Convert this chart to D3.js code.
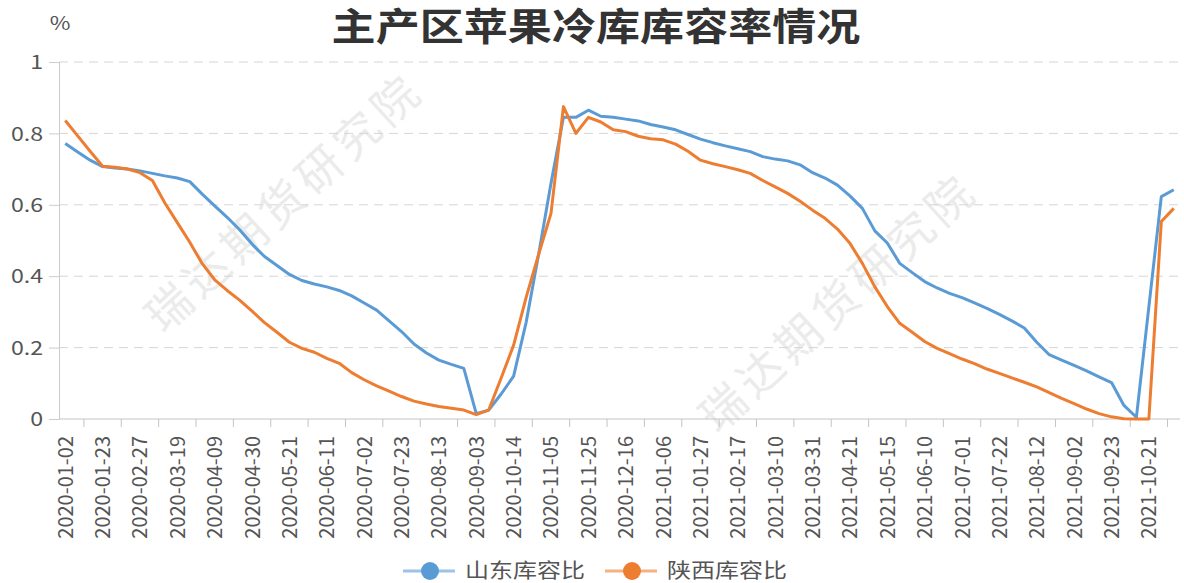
<!DOCTYPE html>
<html>
<head>
<meta charset="utf-8">
<script src="https://cdn.jsdelivr.net/npm/d3@7"></script>
<style>
   body { margin: 0; background: #fff; }
   svg text { font-family: "Noto Sans CJK SC", "Noto Sans", sans-serif; }
</style>
</head>
<body>
<div id="chart"></div>
<script>
// weekly survey dates (only every 3rd one is labelled on the axis)
let dates = [
   '2020-01-02', '2020-01-09', '2020-01-16', '2020-01-23', '2020-02-13', '2020-02-20',
   '2020-02-27', '2020-03-05', '2020-03-12', '2020-03-19', '2020-03-26', '2020-04-02',
   '2020-04-09', '2020-04-16', '2020-04-23', '2020-04-30', '2020-05-07', '2020-05-14',
   '2020-05-21', '2020-05-28', '2020-06-04', '2020-06-11', '2020-06-18', '2020-06-24',
   '2020-07-02', '2020-07-09', '2020-07-16', '2020-07-23', '2020-07-30', '2020-08-06',
   '2020-08-13', '2020-08-20', '2020-08-27', '2020-09-03', '2020-09-17', '2020-09-30',
   '2020-10-14', '2020-10-22', '2020-10-29', '2020-11-05', '2020-11-12', '2020-11-19',
   '2020-11-25', '2020-12-03', '2020-12-10', '2020-12-16', '2020-12-24', '2020-12-31',
   '2021-01-06', '2021-01-14', '2021-01-21', '2021-01-27', '2021-02-04', '2021-02-10',
   '2021-02-17', '2021-02-25', '2021-03-04', '2021-03-10', '2021-03-17', '2021-03-24',
   '2021-03-31', '2021-04-08', '2021-04-15', '2021-04-21', '2021-04-29', '2021-05-07',
   '2021-05-15', '2021-05-20', '2021-06-03', '2021-06-10', '2021-06-17', '2021-06-24',
   '2021-07-01', '2021-07-08', '2021-07-15', '2021-07-22', '2021-07-29', '2021-08-05',
   '2021-08-12', '2021-08-19', '2021-08-26', '2021-09-02', '2021-09-09', '2021-09-16',
   '2021-09-23', '2021-09-30', '2021-10-14', '2021-10-21', '2021-10-28', '2021-11-04'
];

let shandong = [
   0.772, 0.748, 0.725, 0.707, 0.703, 0.700, 0.695, 0.688, 0.681, 0.675,
   0.665, 0.630, 0.597, 0.565, 0.530, 0.490, 0.455, 0.430, 0.405, 0.388,
   0.378, 0.370, 0.360, 0.345, 0.325, 0.305, 0.275, 0.245, 0.210, 0.185,
   0.165, 0.153, 0.142, 0.015, 0.025, 0.070, 0.120, 0.270, 0.460, 0.660,
   0.845, 0.845, 0.865, 0.848, 0.845, 0.840, 0.835, 0.825, 0.818, 0.810,
   0.797, 0.784, 0.774, 0.765, 0.757, 0.749, 0.735, 0.728, 0.723, 0.712,
   0.690, 0.675, 0.655, 0.625, 0.590, 0.527, 0.493, 0.436, 0.410, 0.385,
   0.367, 0.352, 0.340, 0.325, 0.310, 0.293, 0.275, 0.255, 0.215, 0.180,
   0.165, 0.150, 0.135, 0.118, 0.102, 0.038, 0.005, 0.314, 0.623, 0.642
];

let shaanxi = [
   0.836, 0.793, 0.750, 0.708, 0.705, 0.700, 0.690, 0.668, 0.605, 0.550,
   0.495, 0.435, 0.390, 0.360, 0.333, 0.302, 0.270, 0.243, 0.215, 0.198,
   0.187, 0.170, 0.156, 0.130, 0.110, 0.093, 0.078, 0.063, 0.050, 0.042,
   0.035, 0.030, 0.025, 0.012, 0.025, 0.115, 0.207, 0.340, 0.460, 0.576,
   0.875, 0.800, 0.845, 0.832, 0.810, 0.805, 0.792, 0.785, 0.782, 0.770,
   0.750, 0.725, 0.715, 0.707, 0.698, 0.688, 0.668, 0.650, 0.632, 0.610,
   0.585, 0.562, 0.532, 0.492, 0.436, 0.370, 0.315, 0.268, 0.243, 0.217,
   0.198, 0.183, 0.168, 0.155, 0.140, 0.128, 0.115, 0.103, 0.090, 0.074,
   0.058, 0.043, 0.028, 0.015, 0.006, 0.001, 0.000, 0.000, 0.553, 0.590
];

let yTicks = [0, 0.2, 0.4, 0.6, 0.8, 1];
let seriesNames = ['山东库容比', '陕西库容比'];
let seriesColors = ['#5b9bd5', '#ed7d31'];
let titleText = '主产区苹果冷库库容率情况';
let watermark = '瑞达期货研究院';

let margin = {top: 62, right: 4, bottom: 164, left: 59},
   width = 1184 - margin.left - margin.right,
   height = 583 - margin.top - margin.bottom;

let root = d3.select('#chart')
   .append('svg')
   .attr('width', 1184)
   .attr('height', 583)
   .style('background', '#fff');

// watermarks sit behind everything
[[282, 200], [836, 300]].forEach(p => {
   root.append('text')
      .attr('transform', 'translate(' + p[0] + ',' + p[1] + ') rotate(-42.5)')
      .attr('text-anchor', 'middle')
      .attr('dominant-baseline', 'central')
      .attr('font-size', 45)
      .attr('letter-spacing', 6)
      .attr('fill', '#ebebeb')
      .text(watermark);
});

let svg = root.append('g')
   .attr('transform', 'translate(' + margin.left + ',' + margin.top + ')');

let x = d3.scaleBand().domain(dates).range([0, width]).padding(0);
let y = d3.scaleLinear().domain([0, 1]).range([height, 0]);
let bw = x.bandwidth();

// dashed grid
svg.selectAll('.grid')
   .data(yTicks.filter(v => v > 0))
   .enter().append('line')
   .attr('class', 'grid')
   .attr('x1', 0).attr('x2', width)
   .attr('y1', d => y(d)).attr('y2', d => y(d))
   .attr('stroke', '#d6d6d6')
   .attr('stroke-dasharray', '9,6');

// y axis
let yAxis = svg.append('g')
   .call(d3.axisLeft(y).tickValues(yTicks).tickSize(10).tickPadding(0).tickFormat(d3.format('')));
yAxis.select('.domain').attr('stroke', '#cccccc');
yAxis.selectAll('.tick line').attr('stroke', '#cccccc');
yAxis.selectAll('.tick text')
   .attr('x', -13)
   .attr('dy', '0.35em')
   .attr('transform', 'scale(1.22,1)')
   .attr('font-size', 19)
   .attr('fill', '#555');

// x axis: line, ticks at band edges, rotated labels every 3rd category
svg.append('line')
   .attr('x1', 0).attr('x2', width)
   .attr('y1', height).attr('y2', height)
   .attr('stroke', '#c4c4c4');

let tickDates = dates.filter((d, i) => i % 3 === 2);
svg.selectAll('.xtick')
   .data(tickDates)
   .enter().append('line')
   .attr('class', 'xtick')
   .attr('x1', d => x(d)).attr('x2', d => x(d))
   .attr('y1', height).attr('y2', height + 8)
   .attr('stroke', '#c4c4c4');

let labelDates = dates.filter((d, i) => i % 3 === 0);
svg.selectAll('.xlabel')
   .data(labelDates)
   .enter().append('text')
   .attr('class', 'xlabel')
   .attr('transform', d => 'translate(' + (x(d) + bw / 2 - 1) + ',' + (height + 17) + ') rotate(-90)')
   .attr('text-anchor', 'end')
   .attr('dominant-baseline', 'central')
   .attr('font-size', 20)
   .attr('fill', '#555')
   .text(d => d);

// series lines
let line = d3.line()
   .x((d, i) => x(dates[i]) + bw / 2)
   .y(d => y(d));

[shandong, shaanxi].forEach((s, k) => {
   svg.append('path')
      .datum(s)
      .attr('d', line)
      .attr('fill', 'none')
      .attr('stroke', seriesColors[k])
      .attr('stroke-width', 3)
      .attr('stroke-linejoin', 'round');
});

// title and unit
root.append('text')
   .attr('transform', 'translate(596,23) scale(1.16,1)')
   .attr('text-anchor', 'middle')
   .attr('dominant-baseline', 'central')
   .attr('font-size', 38)
   .attr('font-weight', 'bold')
   .attr('fill', '#333')
   .text(titleText);

root.append('text')
   .attr('transform', 'translate(60,22) scale(1.25,1)')
   .attr('text-anchor', 'middle')
   .attr('dominant-baseline', 'central')
   .attr('font-size', 18)
   .attr('fill', '#555')
   .text('%');

// legend
let legendX = [403, 605];
seriesNames.forEach((name, k) => {
   let g = root.append('g').attr('transform', 'translate(' + legendX[k] + ',571)');
   g.append('line')
      .attr('x1', 0).attr('x2', 52)
      .attr('y1', 0).attr('y2', 0)
      .attr('stroke', seriesColors[k])
      .attr('stroke-opacity', 0.6)
      .attr('stroke-width', 3);
   g.append('circle')
      .attr('cx', 27).attr('cy', 0).attr('r', 9)
      .attr('fill', seriesColors[k]);
   g.append('text')
      .attr('transform', 'translate(62,-2) scale(1.2,1)')
      .attr('dominant-baseline', 'central')
      .attr('font-size', 20)
      .attr('fill', '#555')
      .text(name);
});
</script>
</body>
</html>
